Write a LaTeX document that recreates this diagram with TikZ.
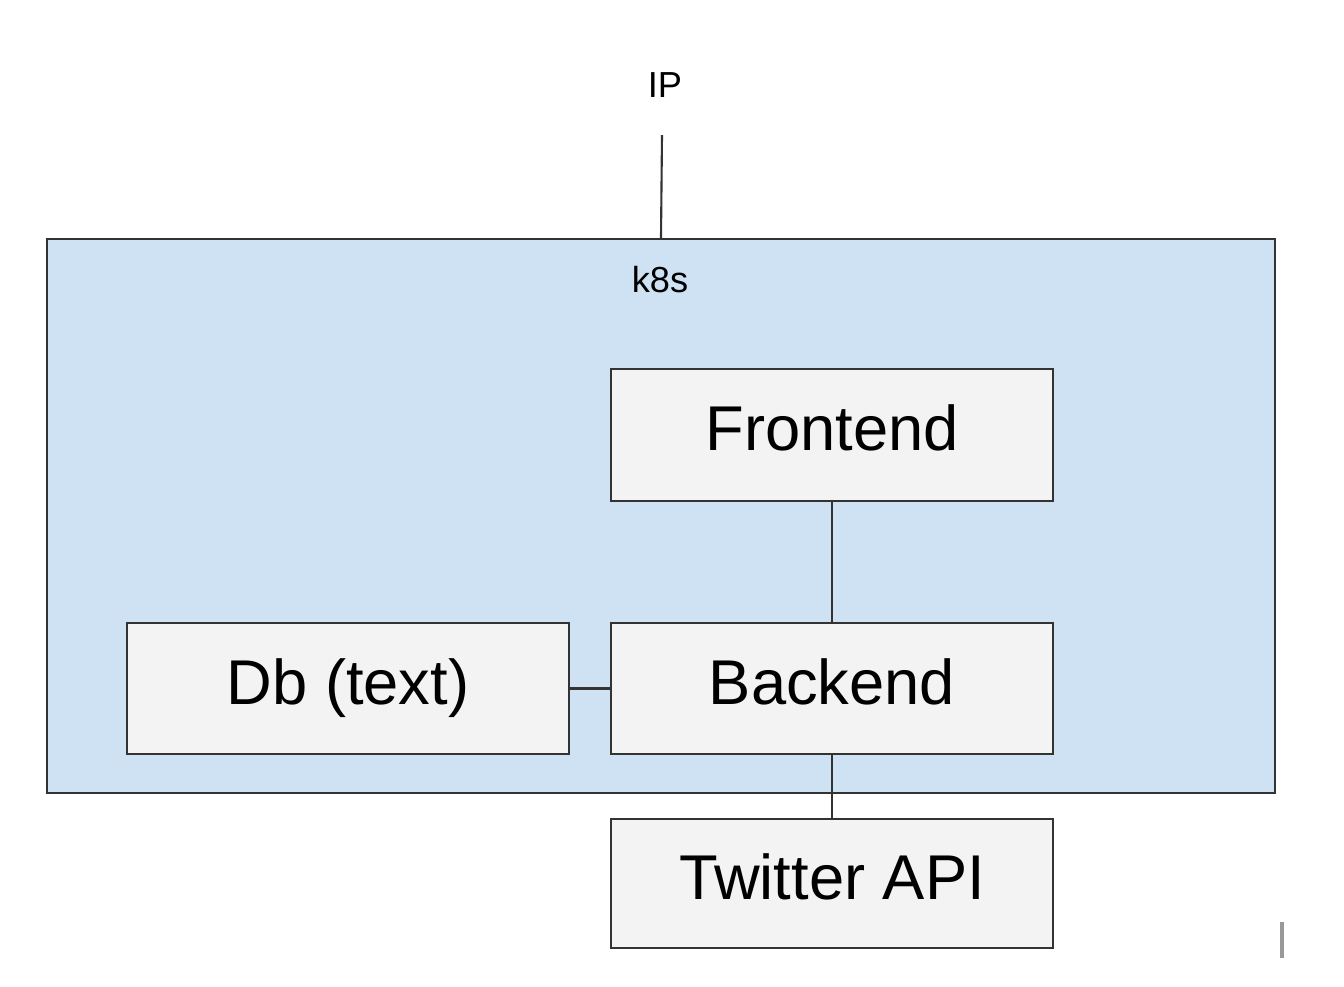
\documentclass[tikz,border=0pt]{standalone}
\usepackage{fontspec}
\setmainfont{Liberation Sans}
\usetikzlibrary{positioning}

\definecolor{k8sblue}{HTML}{CFE2F3}
\definecolor{boxgray}{HTML}{F3F3F3}
\definecolor{edgegray}{HTML}{333333}

\begin{document}
\begin{tikzpicture}[
    cluster/.style={rectangle,draw=edgegray,fill=k8sblue,line width=0.6pt,minimum width=12.28cm,minimum height=5.54cm},
    block/.style={rectangle,draw=edgegray,fill=boxgray,line width=0.6pt,minimum width=4.42cm,minimum height=1.31cm,
        text height=0.46cm,text depth=0.145cm,font=\fontsize{18}{21}\selectfont},
    small/.style={font=\fontsize{10.3}{12}\selectfont},
    line/.style={draw=edgegray,line width=0.6pt}]

    \useasboundingbox (0,0) rectangle (13.44,-9.86);

    % Cluster
    \node[cluster] (k8s) at (6.61,-5.16) {};
    \node[small] (k8slabel) at (6.60,-2.80) {k8s};

    % External address
    \node[small] (ip) at (6.65,-0.85) {IP};
    \coordinate (ipend) at (6.62,-1.35);

    % Services
    \node[block,minimum height=1.32cm] (frontend) at (8.32,-4.35) {Frontend};
    \node[block] (backend) at (8.32,-6.885) {Backend};
    \node[block] (db) at (3.48,-6.885) {Db (text)};
    \node[block,minimum height=1.29cm] (twitter) at (8.32,-8.835) {Twitter API};

    % Connect services
    \path[line] (ipend) -- (k8s.north);
    \path[line] (frontend) -- (backend);
    \path[line] (db) -- (backend);
    \path[line] (backend) -- (twitter);

    % Cursor mark
    \fill[gray!80] (12.80,-9.22) rectangle (12.84,-9.58);
\end{tikzpicture}
\end{document}
